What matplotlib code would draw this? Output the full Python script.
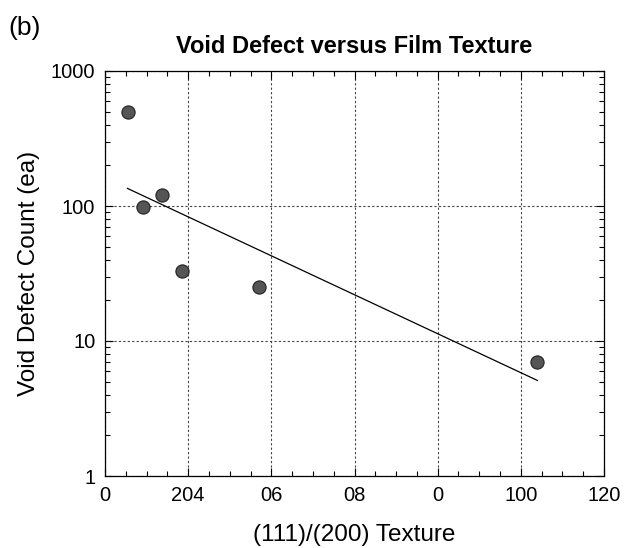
import matplotlib
matplotlib.use("Agg")
import matplotlib.pyplot as plt
from matplotlib.ticker import MultipleLocator, LogLocator, NullFormatter, FixedLocator, FixedFormatter

plt.rcParams['font.family'] = ['Liberation Sans', 'DejaVu Sans']

texture = [5.6, 9.2, 13.7, 18.5, 37.1, 104.0]
void_count = [495, 99, 120, 33, 25, 7.0]
fit_x = [5.4, 104.0]
fit_y = [135, 5.1]
xtick_vals = [0, 20, 40, 60, 80, 100, 120]
xtick_labels = ["0", "204", "06", "08", "0", "100", "120"]
ytick_vals = [1, 10, 100, 1000]
ytick_labels = ["1", "10", "100", "1000"]

fig = plt.figure(figsize=(6.3, 5.48), dpi=100)
ax = fig.add_axes([105/630, 1-476/548, (604-105)/630, (476-71)/548])

ax.plot(fit_x, fit_y, color='black', lw=0.9, zorder=2)
ax.plot(texture, void_count, 'o', ms=9.5, mfc='#555555', mec='#222222', mew=0.8, zorder=3)

ax.set_yscale('log')
ax.set_xlim(0, 120)
ax.set_ylim(1, 1000)
ax.xaxis.set_major_locator(FixedLocator(xtick_vals))
ax.xaxis.set_major_formatter(FixedFormatter(xtick_labels))
ax.xaxis.set_minor_locator(MultipleLocator(5))
ax.yaxis.set_major_locator(FixedLocator(ytick_vals))
ax.yaxis.set_major_formatter(FixedFormatter(ytick_labels))
ax.yaxis.set_minor_locator(LogLocator(base=10, subs=range(2, 10)))
ax.yaxis.set_minor_formatter(NullFormatter())

ax.tick_params(which='both', direction='in', top=True, right=True, labelsize=14.5, pad=7, colors='black')
ax.tick_params(which='major', length=6, width=0.8)
ax.tick_params(which='minor', length=3.5, width=0.8)
ax.grid(True, which='major', linestyle=(0, (2, 2)), color='#444444', lw=0.8)
for s in ax.spines.values():
    s.set_linewidth(0.9)

ax.set_xlabel("(111)/(200) Texture", fontsize=17.5, labelpad=14)
ax.set_ylabel("Void Defect Count (ea)", fontsize=17.5, labelpad=8)
ax.set_title("Void Defect versus Film Texture", fontsize=17, fontweight='bold', pad=13)
fig.text(8/630, 1-35/548, "(b)", fontsize=19, va='baseline', ha='left')

fig.savefig("out.png", dpi=100)
